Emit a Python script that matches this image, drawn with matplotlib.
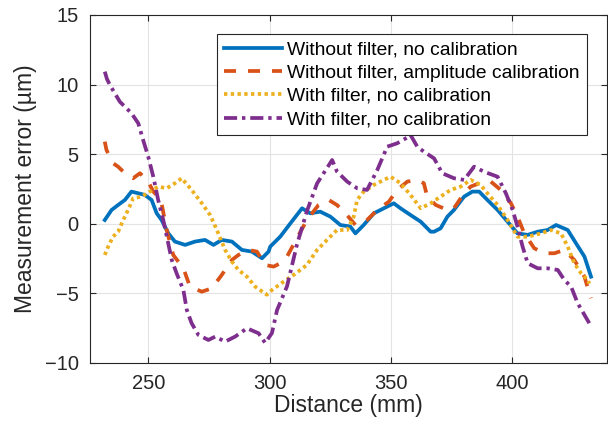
import matplotlib.pyplot as plt

plt.rcParams['font.family'] = ['Liberation Sans', 'DejaVu Sans']

# Without filter, no calibration
x_blue = [232.1, 234.9, 237.6, 240.4, 243.1, 245.9, 248.6, 251.4, 253.5, 255.5, 258.3, 261.0,
          265.2, 269.3, 273.4, 276.9, 280.3, 284.5, 288.6, 292.7, 296.9, 299.6, 300.3, 304.4,
          308.6, 313.4, 316.8, 320.9, 325.1, 329.2, 333.3, 335.4, 338.8, 343.0, 347.1, 351.2,
          354.0, 358.1, 362.3, 366.4, 367.8, 370.5, 373.3, 376.0, 380.2, 383.6, 386.4, 389.8,
          394.0, 398.1, 402.2, 406.4, 410.5, 414.6, 418.1, 422.9, 426.3, 429.8, 432.5]
y_blue = [0.27, 0.99, 1.35, 1.71, 2.31, 2.19, 2.07, 1.71, 0.75, 0.27, -0.69, -1.28,
          -1.52, -1.28, -1.16, -1.52, -1.16, -1.28, -1.88, -2.0, -2.48, -2.0, -1.64, -0.93,
          0.03, 1.11, 0.75, 0.87, 0.51, -0.09, -0.2, -0.69, -0.09, 0.75, 1.11, 1.47,
          1.11, 0.63, 0.15, -0.57, -0.57, -0.33, 0.51, 0.99, 1.95, 2.31, 2.31, 1.71,
          0.99, 0.15, -0.69, -0.8, -0.57, -0.45, -0.09, -0.45, -1.4, -2.36, -3.8]

# Without filter, amplitude calibration
x_orange = [232.1, 232.8, 235.5, 237.6, 240.4, 243.8, 246.6, 250.0, 252.1, 254.1, 255.5, 257.6,
            260.3, 264.5, 267.2, 272.1, 276.2, 280.3, 284.5, 287.2, 291.3, 294.8, 298.2, 301.7,
            304.4, 307.2, 311.3, 315.4, 320.2, 324.4, 327.8, 331.3, 335.4, 340.2, 344.4, 349.2,
            352.6, 356.8, 360.9, 363.6, 365.0, 368.5, 373.3, 376.0, 380.2, 382.9, 386.4, 391.2,
            395.3, 399.5, 402.2, 405.0, 409.1, 413.2, 417.4, 421.5, 425.6, 429.8, 431.8, 432.5]
y_orange = [5.9, 5.3, 4.35, 4.1, 3.63, 3.27, 3.63, 3.03, 2.31, 1.95, 1.47, -0.45,
            -2.24, -3.2, -4.52, -4.88, -4.64, -3.68, -2.6, -2.24, -1.88, -2.0, -2.96, -3.08,
            -2.84, -2.36, -1.04, 0.27, 1.35, 1.71, 1.35, 0.75, -0.09, 0.27, 0.99, 1.59,
            2.43, 3.03, 3.15, 2.91, 1.95, 1.35, 0.99, 1.11, 2.19, 2.67, 2.91, 3.03,
            2.43, 1.47, 0.51, -0.69, -1.76, -2.12, -2.12, -1.88, -2.6, -3.8, -4.99, -5.35]

# With filter, no calibration (dotted)
x_yellow = [232.1, 233.5, 235.5, 237.6, 239.7, 241.7, 243.8, 247.3, 250.7, 254.1, 257.6, 261.0,
            263.8, 267.9, 272.1, 275.5, 278.3, 281.7, 284.5, 287.2, 290.7, 294.1, 298.9, 301.0,
            305.8, 309.9, 315.4, 319.6, 323.7, 327.8, 332.0, 334.7, 336.1, 338.8, 343.0, 347.1,
            349.9, 354.0, 358.1, 362.3, 366.4, 370.5, 374.6, 378.8, 382.9, 387.0, 389.8, 394.0,
            398.1, 402.2, 406.4, 411.9, 416.0, 420.1, 422.9, 425.6, 428.4, 431.2, 431.8]
y_yellow = [-2.24, -1.64, -0.93, -0.57, 0.27, 0.99, 1.83, 1.95, 2.31, 2.67, 2.55, 2.91,
            3.27, 2.43, 1.47, 0.63, -0.45, -1.88, -2.72, -3.32, -3.8, -4.52, -5.1, -4.76,
            -4.16, -3.68, -2.96, -1.88, -1.16, -0.45, -0.45, 0.51, 1.71, 2.31, 2.79, 3.15,
            3.38, 2.91, 2.07, 1.11, 1.47, 1.95, 2.43, 2.67, 3.15, 2.79, 2.19, 1.35,
            0.27, -0.93, -0.93, -0.69, -0.45, -0.69, -1.64, -2.84, -3.56, -4.04, -4.3]

# With filter, no calibration (dash-dot)
x_purple = [232.1, 233.0, 234.2, 238.3, 243.1, 245.9, 247.9, 250.0, 252.1, 254.1, 256.2, 259.7,
            261.7, 264.5, 265.9, 267.9, 270.7, 274.8, 277.6, 281.7, 285.8, 290.7, 295.5, 298.2,
            301.0, 303.1, 307.2, 311.3, 315.4, 319.6, 322.3, 325.8, 327.8, 332.0, 336.1, 340.2,
            344.4, 348.5, 352.6, 357.4, 358.1, 360.9, 363.6, 367.8, 371.2, 376.0, 380.2, 384.3,
            388.4, 394.0, 397.4, 400.2, 402.2, 404.3, 406.4, 410.5, 414.6, 418.8, 421.5, 424.3,
            427.0, 429.8, 431.8]
y_purple = [10.93, 10.4, 9.97, 8.77, 7.94, 7.22, 6.02, 4.82, 3.38, 1.71, 0.27, -2.6,
            -3.56, -4.76, -6.19, -7.15, -7.99, -8.35, -8.11, -8.47, -8.11, -7.51, -7.87, -8.56,
            -7.85, -6.2, -4.5, -1.5, 0.9, 2.9, 3.63, 4.58, 3.75, 3.03, 2.55, 2.43,
            3.86, 5.54, 5.78, 6.26, 6.38, 5.54, 5.18, 4.7, 3.63, 3.27, 3.15, 4.1,
            3.74, 3.38, 2.19, 0.99, -0.2, -1.64, -2.84, -3.2, -3.2, -3.32, -4.04, -4.52,
            -5.71, -6.55, -7.15]

labels = ['Without filter, no calibration',
          'Without filter, amplitude calibration',
          'With filter, no calibration',
          'With filter, no calibration']

fig = plt.figure(figsize=(6.08, 4.28), dpi=100)
ax = fig.add_axes([0.148, 0.152, 0.85, 0.813])

lw = 2.7
ax.plot(x_blue, y_blue, '-', color='#0072BD', lw=lw, label=labels[0])
ax.plot(x_orange, y_orange, '--', color='#D95319', lw=lw, label=labels[1], dashes=(3.2, 3.2))
ax.plot(x_yellow, y_yellow, ':', color='#EDB120', lw=lw, label=labels[2], dashes=(0.9, 0.9))
ax.plot(x_purple, y_purple, '-.', color='#7E2F8E', lw=lw, label=labels[3], dashes=(3.5, 1.3, 0.9, 1.3))

ax.set_xlim(226, 439)
ax.set_ylim(-10, 15)
ax.set_xticks([250, 300, 350, 400])
ax.set_yticks([-10, -5, 0, 5, 10, 15])
ax.grid(True, color='#e3e3e3', lw=0.8)
ax.set_axisbelow(True)
ax.tick_params(direction='in', top=True, right=True, labelsize=14.5, length=4, width=0.8,
               color='#262626', labelcolor='#262626')
ax.tick_params(axis='x', pad=8)
ax.tick_params(axis='y', pad=8)
for s in ax.spines.values():
    s.set_color('#262626')
    s.set_linewidth(0.8)

ax.set_xlabel('Distance (mm)', fontsize=16.5, labelpad=1, color='#262626')
ax.set_ylabel('Measurement error (\u00b5m)', fontsize=16.5, labelpad=6, color='#262626')

leg = ax.legend(loc='upper right', bbox_to_anchor=(0.961, 0.945), fontsize=13.9, handlelength=3.0,
                handletextpad=0.3, borderpad=0.35, labelspacing=0.3, fancybox=False,
                edgecolor='#262626', framealpha=1, borderaxespad=0)
leg.get_frame().set_linewidth(0.8)

fig.savefig('out.png', dpi=100)
